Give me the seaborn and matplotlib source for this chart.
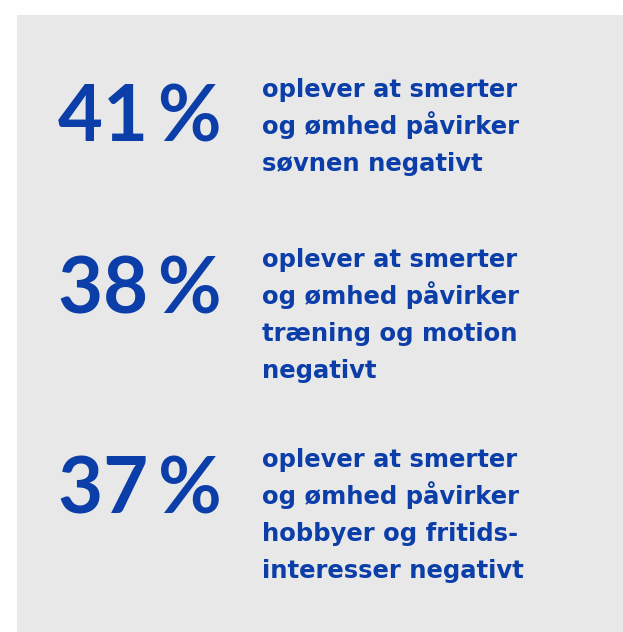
import matplotlib.pyplot as plt
import seaborn as sns

percents = [41, 38, 37]
labels = [
    ["oplever at smerter", "og ømhed påvirker", "søvnen negativt"],
    ["oplever at smerter", "og ømhed påvirker", "træning og motion", "negativt"],
    ["oplever at smerter", "og ømhed påvirker", "hobbyer og fritids-", "interesser negativt"],
]

blue = "#0b3ea8"
grey = "#e8e8e8"

sns.set_theme(style="white", rc={"axes.facecolor": grey})
plt.rcParams['font.family'] = ['Lato', 'DejaVu Sans']

fig = plt.figure(figsize=(6.23, 6.32), dpi=100)
fig.patch.set_facecolor("white")
# grey panel in pixel coordinates
ax = fig.add_axes([17 / 623, 0, 606 / 623, 617 / 632])
ax.set_xlim(17, 623)
ax.set_ylim(632, 15)
ax.set_axis_off()
ax.add_patch(plt.Rectangle((17, 15), 606, 617, color=grey, zorder=0))

# baselines of the big numbers and first text line of each block
num_base = [141, 313, 513]
text_base = [97, 267, 467]
line_gap = 37

for pct, nb, tb, lines in zip(percents, num_base, text_base, labels):
    ax.text(58, nb, f"{pct}\u2009%", color=blue, fontsize=56, fontweight="bold",
            va="baseline", ha="left")
    for i, line in enumerate(lines):
        ax.text(262, tb + i * line_gap, line, color=blue, fontsize=17.5,
                fontweight="bold", family=["DejaVu Sans"], va="baseline", ha="left")

plt.savefig("out.png", dpi=100)
